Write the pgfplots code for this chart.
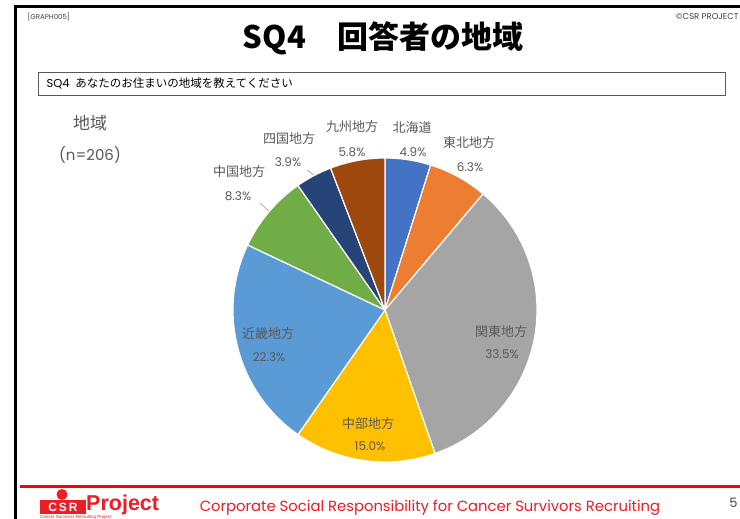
\documentclass[border=0pt]{standalone}
\usepackage{pgfplots}
\pgfplotsset{compat=1.18}
\usepackage{pgfplotstable}
\usepackage{fontspec}
\setmainfont{Poppins}
\newfontfamily\jp{Noto Sans CJK JP}
\newfontfamily\logofont{Liberation Sans}
\definecolor{c0}{HTML}{4472C4}
\definecolor{c1}{HTML}{ED7D31}
\definecolor{c2}{HTML}{A5A5A5}
\definecolor{c3}{HTML}{FFC000}
\definecolor{c4}{HTML}{5B9BD5}
\definecolor{c5}{HTML}{70AD47}
\definecolor{c6}{HTML}{264478}
\definecolor{c7}{HTML}{9E480E}
\definecolor{lbl}{HTML}{595959}
\definecolor{lead}{HTML}{A6A6A6}
\definecolor{logored}{HTML}{EE1C25}
% region counts (n=206): Hokkaido, Tohoku, Kanto, Chubu, Kinki, Chugoku, Shikoku, Kyushu
\pgfplotstableread{
count
10
13
69
31
46
17
8
12
}\regiontable
\begin{document}
\begin{tikzpicture}
\clip (0,0) rectangle (740bp,-519bp);
\fill[white] (0,0) rectangle (740bp,-519bp);
% angles from data
\pgfplotstablegetrowsof{\regiontable}
\pgfmathtruncatemacro\nrows{\pgfplotsretval-1}
\def\mytotal{0}
\pgfplotsforeachungrouped \i in {0,...,\nrows}{%
  \pgfplotstablegetelem{\i}{count}\of\regiontable
  \pgfmathsetmacro\mytotal{\mytotal+\pgfplotsretval}}
\def\mycum{0}
\pgfplotsforeachungrouped \i in {0,...,\nrows}{%
  \pgfplotstablegetelem{\i}{count}\of\regiontable
  \pgfmathsetmacro\myA{90-\mycum/\mytotal*360}
  \pgfmathsetmacro\mycum{\mycum+\pgfplotsretval}
  \pgfmathsetmacro\myB{90-\mycum/\mytotal*360}
  \expandafter\xdef\csname sa\i\endcsname{\myA}
  \expandafter\xdef\csname ea\i\endcsname{\myB}}
\begin{axis}[at={(385bp,-310bp)}, anchor=center, width=304bp, height=304bp,
  scale only axis, xmin=-1, xmax=1, ymin=-1, ymax=1, hide axis, clip=false]
\pgfplotsinvokeforeach{0,...,7}{
  \fill[c#1, draw=white, line width=1.2pt, line join=round] (axis cs:0,0) -- ++(\csname sa#1\endcsname:152bp)
    arc[start angle=\csname sa#1\endcsname, end angle=\csname ea#1\endcsname, radius=152bp] -- cycle;
}
\end{axis}
\begin{scope}[x=1bp, y=-1bp]
% slide frame
\draw[line width=3bp] (15,525) -- (15,6.5) -- (745,6.5);
\node[anchor=west, text=black!75, font=\fontsize{7bp}{8bp}\selectfont] at (24,17) {[GRAPH005]};
\node[anchor=east, text=black!75, font=\fontsize{8.5bp}{9bp}\selectfont] at (742,16.5) {©CSR PROJECT};
% title
\node[font=\jp\bfseries\fontsize{31bp}{35bp}\selectfont] at (383,38) {SQ4　回答者の地域};
% question box
\draw[black!65, line width=0.8bp] (38,72.5) rectangle (725,95);
\node[anchor=west, font=\fontsize{11.5bp}{13bp}\selectfont] at (43,83.5) {SQ4\hspace{0.5em}{\jp あなたのお住まいの地域を教えてください}};
% left label
\node[text=lbl, font=\jp\fontsize{17bp}{19bp}\selectfont] at (90,123) {地域};
\node[text=lbl, font=\fontsize{15bp}{17bp}\selectfont] at (90,155) {(n=206)};
% leader lines
\draw[lead, line width=0.7bp] (260,203) -- (269,211);
\draw[lead, line width=0.7bp] (307,170) -- (314,175);
% slice labels
\begin{scope}[every node/.style={text=lbl}]
\node[font=\jp\fontsize{13bp}{15bp}\selectfont] at (412,128) {北海道};
\node[font=\fontsize{12bp}{14bp}\selectfont] at (413,152) {4.9\%};
\node[font=\jp\fontsize{13bp}{15bp}\selectfont] at (469,143) {東北地方};
\node[font=\fontsize{12bp}{14bp}\selectfont] at (470,167) {6.3\%};
\node[font=\jp\fontsize{13bp}{15bp}\selectfont] at (501,332) {関東地方};
\node[font=\fontsize{12bp}{14bp}\selectfont] at (502,354) {33.5\%};
\node[font=\jp\fontsize{13bp}{15bp}\selectfont] at (368,424) {中部地方};
\node[font=\fontsize{12bp}{14bp}\selectfont] at (370,446) {15.0\%};
\node[font=\jp\fontsize{13bp}{15bp}\selectfont] at (268,334) {近畿地方};
\node[font=\fontsize{12bp}{14bp}\selectfont] at (269,357) {22.3\%};
\node[font=\jp\fontsize{13bp}{15bp}\selectfont] at (239,172) {中国地方};
\node[font=\fontsize{12bp}{14bp}\selectfont] at (238,196) {8.3\%};
\node[font=\jp\fontsize{13bp}{15bp}\selectfont] at (289,139) {四国地方};
\node[font=\fontsize{12bp}{14bp}\selectfont] at (288,162) {3.9\%};
\node[font=\jp\fontsize{13bp}{15bp}\selectfont] at (352,127) {九州地方};
\node[font=\fontsize{12bp}{14bp}\selectfont] at (352,152) {5.8\%};
\end{scope}
% footer
\draw[red, line width=2.5bp] (20,486.5) -- (745,486.5);
\node[text=logored, font=\fontsize{14.8bp}{16bp}\selectfont] at (430,508) {Corporate Social Responsibility for Cancer Survivors Recruiting};
\node[anchor=east, text=black!70, font=\fontsize{13bp}{15bp}\selectfont] at (741,503) {5};
% logo
\fill[logored] (62,494.5) circle (5.5);
\fill[logored] (40,500) rectangle (86,513.5);
\node[text=white, font=\logofont\bfseries\fontsize{12bp}{13bp}\selectfont] at (63,507) {C\,S\,R};
\node[anchor=west, inner sep=0pt, text=logored, font=\logofont\bfseries\fontsize{21.5bp}{23bp}\selectfont] at (86,505) {Project};
\node[anchor=west, inner sep=0pt, text=logored, font=\logofont\fontsize{4.5bp}{5bp}\selectfont] at (40,517.5) {Cancer Survivors Recruiting Project};
\end{scope}
\end{tikzpicture}
\end{document}
